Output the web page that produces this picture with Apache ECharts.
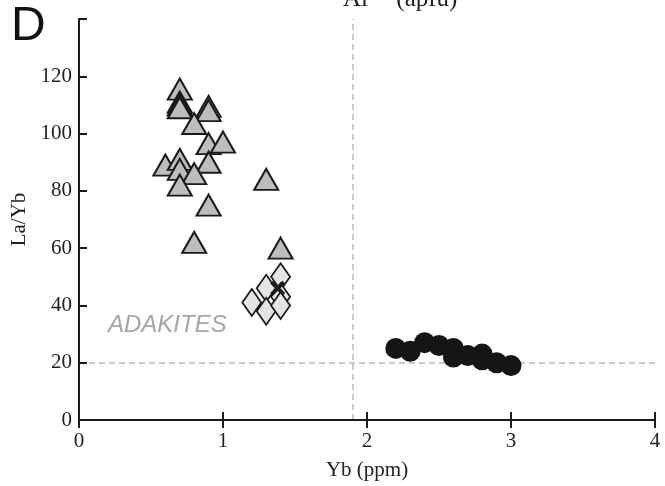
<!DOCTYPE html>
<html>
<head>
<meta charset="utf-8">
<title>La/Yb vs Yb</title>
<script src="https://cdn.jsdelivr.net/npm/echarts@6/dist/echarts.min.js"></script>
<style>
  html, body { margin: 0; padding: 0; background: #fff; }
  #chart { width: 665px; height: 486px; }
</style>
</head>
<body>
<div id="chart"></div>
<script>
// data: [Yb (ppm), La/Yb]
var triangles = [[0.7,115.5],[0.7,111],[0.7,110],[0.7,109],[0.9,109.5],[0.9,108],
  [0.8,103.5],[0.9,96.5],[1.0,97],[0.9,90],[0.6,89],[0.7,91],[0.7,87.5],[0.8,86],
  [0.7,82],[0.9,75],[0.8,62],[1.3,84],[1.4,60]];
var diamonds = [[1.2,41],[1.3,46],[1.4,50],[1.4,43],[1.3,38],[1.4,40]];
var crosses = [[1.38,46]];
var circles = [[2.2,25],[2.3,24],[2.4,27],[2.5,26],[2.6,25],[2.6,22],[2.7,22.5],
  [2.8,23],[2.8,21],[2.9,20],[3.0,19]];
var xTicks = [0, 1, 2, 3, 4];
var yTicks = [0, 20, 40, 60, 80, 100, 120];
var ybLimit = 1.9;   // vertical dashed line
var laybLimit = 20;  // horizontal dashed line

var serif = '"Liberation Serif", "DejaVu Serif", serif';
var dash = { color: '#c8c8c8', type: [6, 4], width: 2 };
var xPath = 'path://M0,1.8 L1.8,0 L5,3.2 L8.2,0 L10,1.8 L6.8,5 L10,8.2 L8.2,10 L5,6.8 L1.8,10 L0,8.2 L3.2,5 Z';

var chart = echarts.init(document.getElementById('chart'));
chart.setOption({
  animation: false,
  grid: { left: 79, right: 10, top: 19, bottom: 66, outerBoundsMode: 'none', containLabel: false },
  xAxis: [{
    type: 'value', min: 0, max: 4, interval: 1, position: 'bottom',
    name: 'Yb (ppm)', nameLocation: 'middle', nameGap: 40,
    nameTextStyle: { fontFamily: serif, fontSize: 21, color: '#222' },
    axisLine: { show: true, lineStyle: { color: '#1a1a1a', width: 2 } },
    axisTick: { show: true, inside: true, length: 8, lineStyle: { color: '#1a1a1a', width: 2 } },
    axisLabel: { fontFamily: serif, fontSize: 21, color: '#222', margin: 11,
      formatter: function (v) { return xTicks.indexOf(v) >= 0 ? String(v) : ''; } },
    splitLine: { show: false }
  }, {
    type: 'value', min: 0, max: 4, interval: 1, position: 'top',
    axisLine: { show: true, lineStyle: { color: '#1a1a1a', width: 2 } },
    axisTick: { show: true, inside: true, length: 8, lineStyle: { color: '#1a1a1a', width: 2 } },
    axisLabel: { show: false }, splitLine: { show: false }
  }],
  yAxis: [{
    type: 'value', min: 0, max: 140, interval: 20, position: 'left',
    name: 'La/Yb', nameLocation: 'middle', nameGap: 48, nameRotate: 90,
    nameTextStyle: { fontFamily: serif, fontSize: 21, color: '#222' },
    axisLine: { show: true, lineStyle: { color: '#1a1a1a', width: 2 } },
    axisTick: { show: true, inside: true, length: 8, lineStyle: { color: '#1a1a1a', width: 2 } },
    axisLabel: { fontFamily: serif, fontSize: 21, color: '#222', margin: 7,
      formatter: function (v) { return yTicks.indexOf(v) >= 0 ? String(v) : ''; } },
    splitLine: { show: false }
  }, {
    type: 'value', min: 0, max: 140, interval: 20, position: 'right',
    axisLine: { show: true, lineStyle: { color: '#1a1a1a', width: 2 } },
    axisTick: { show: false }, axisLabel: { show: false }, splitLine: { show: false }
  }],
  series: [{
    type: 'line', data: [], silent: true, z: 0,
    markLine: {
      symbol: 'none', silent: true, label: { show: false }, z: 0,
      lineStyle: dash,
      data: [{ xAxis: ybLimit }, { yAxis: laybLimit }]
    }
  }, {
    type: 'scatter', data: triangles, symbol: 'triangle', symbolSize: [24, 21], z: 3,
    itemStyle: { color: '#bdbdbd', borderColor: '#1a1a1a', borderWidth: 2, opacity: 1 }
  }, {
    type: 'scatter', data: diamonds, symbol: 'diamond', symbolSize: [19, 27], z: 3,
    itemStyle: { color: '#e4e4e4', borderColor: '#1a1a1a', borderWidth: 1.8, opacity: 1 }
  }, {
    type: 'scatter', data: crosses, symbol: xPath, symbolSize: 15, z: 4,
    itemStyle: { color: '#1a1a1a', opacity: 1 }
  }, {
    type: 'scatter', data: circles, symbol: 'circle', symbolSize: 21, z: 3,
    itemStyle: { color: '#151515', opacity: 1 }
  }],
  graphic: [{
    type: 'text', left: 11, top: 3,
    style: { text: 'D', fontFamily: '"Liberation Sans", "DejaVu Sans", sans-serif', fontSize: 48, fill: '#111' }
  }, {
    type: 'text', left: 108, top: 313,
    style: { text: 'ADAKITES', fontFamily: '"Liberation Sans", Arial, sans-serif', fontStyle: 'italic',
      fontSize: 24, fill: '#a6a6a6' }
  }, {
    type: 'text', left: 343, top: -16,
    style: {
      text: 'Al{s|IV}  (apfu)', fontFamily: serif, fontSize: 25, fill: '#222',
      rich: { s: { fontFamily: serif, fontSize: 15, fill: '#222', verticalAlign: 'top', padding: [0, 0, 16, 0] } }
    }
  }]
});
</script>
</body>
</html>
